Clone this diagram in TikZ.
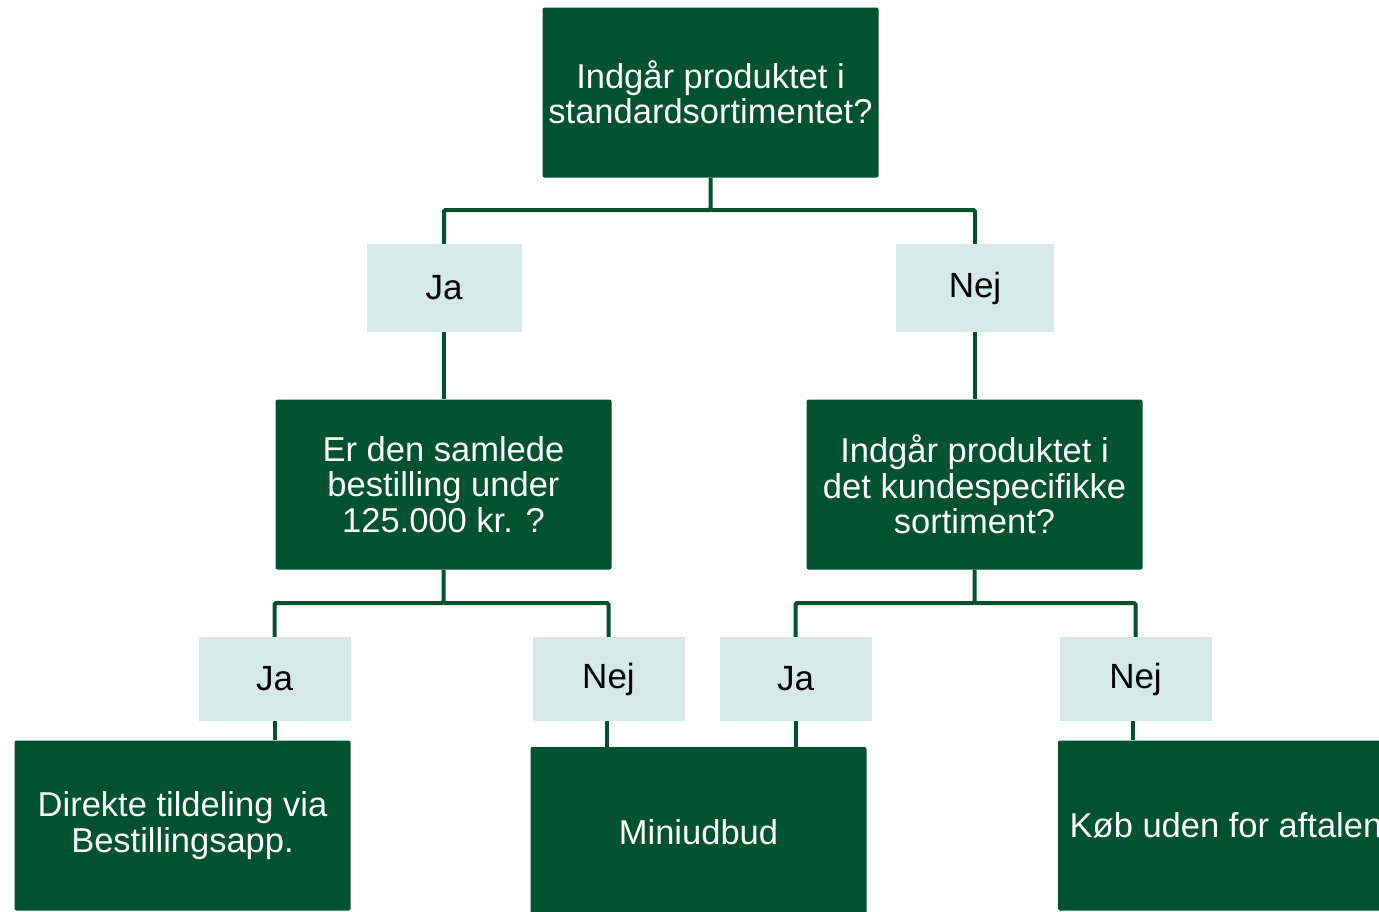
\documentclass[tikz,border=0pt]{standalone}
\usepackage{fontspec}
\setmainfont{Liberation Sans}
\definecolor{dgreen}{HTML}{00532E}
\definecolor{lgreen}{HTML}{D4EAE7}
\begin{document}
\begin{tikzpicture}[x=1pt,y=-1pt,
  qbox/.style={fill=dgreen, rounded corners=2pt, text=white, align=center,
    minimum width=336pt, minimum height=170pt, inner sep=0pt,
    font=\fontsize{34.5}{35.5}\selectfont},
  lab/.style={fill=lgreen, text=black, minimum width=152pt, minimum height=84pt,
    inner sep=0pt, font=\fontsize{35}{36}\selectfont},
  conn/.style={draw=dgreen, line width=4pt, rounded corners=1.5pt}]
\useasboundingbox (0,0) rectangle (1379,911);
\clip (0,0) rectangle (1379,911);
% nodes
\node[qbox] (top) at (710.5,92.5) {Indgår produktet i\\standardsortimentet?};
\node[qbox] (midL) at (443.5,484.5) {Er den samlede\\bestilling under\\125.000 kr. ?};
\node[qbox] (midR) at (974.5,484.5) {Indgår produktet i\\det kundespecifikke\\sortiment?};
\node[qbox] (botL) at (182.5,825.5) {Direkte tildeling via\\Bestillingsapp.};
\node[qbox] (botM) at (698.5,832) {Miniudbud};
\node[qbox] (botR) at (1226,825.5) {Køb uden for aftalen};
\coordinate (j1) at (710.5,210);
\coordinate (j2) at (443.5,603);
\coordinate (j3) at (974.5,603);
\path (444,288) coordinate (pja1) (975,288) coordinate (pnej1)
      (274.5,679) coordinate (pja2) (608.5,679) coordinate (pnej2)
      (795.5,679) coordinate (pja3) (1135.5,679) coordinate (pnej3);
% connectors (drawn before labels)
\draw[conn] (top.south) -- (j1) -| (pja1);
\draw[conn] (j1) -| (pnej1);
\draw[conn] (pja1) -- (pja1 |- midL.north);
\draw[conn] (pnej1) -- (pnej1 |- midR.north);
\draw[conn] (midL.south) -- (j2) -| (pja2);
\draw[conn] (j2) -| (pnej2);
\draw[conn] (midR.south) -- (j3) -| (pja3);
\draw[conn] (j3) -| (pnej3);
\draw[conn] (pja2) -- (pja2 |- botL.north);
\draw[conn] ([xshift=-1.5pt]pnej2) -- ([xshift=-1.5pt]pnej2 |- botM.north);
\draw[conn] (pja3) -- (pja3 |- botM.north);
\draw[conn] ([xshift=-2.5pt]pnej3) -- ([xshift=-2.5pt]pnej3 |- botR.north);
% labels
\node[lab, minimum width=155pt, minimum height=88pt] (ja1) at (pja1) {Ja};
\node[lab, minimum width=158pt, minimum height=88pt] (nej1) at (pnej1) {Nej};
\node[lab] (ja2) at (pja2) {Ja};
\node[lab] (nej2) at (pnej2) {Nej};
\node[lab] (ja3) at (pja3) {Ja};
\node[lab] (nej3) at (pnej3) {Nej};
\end{tikzpicture}
\end{document}
